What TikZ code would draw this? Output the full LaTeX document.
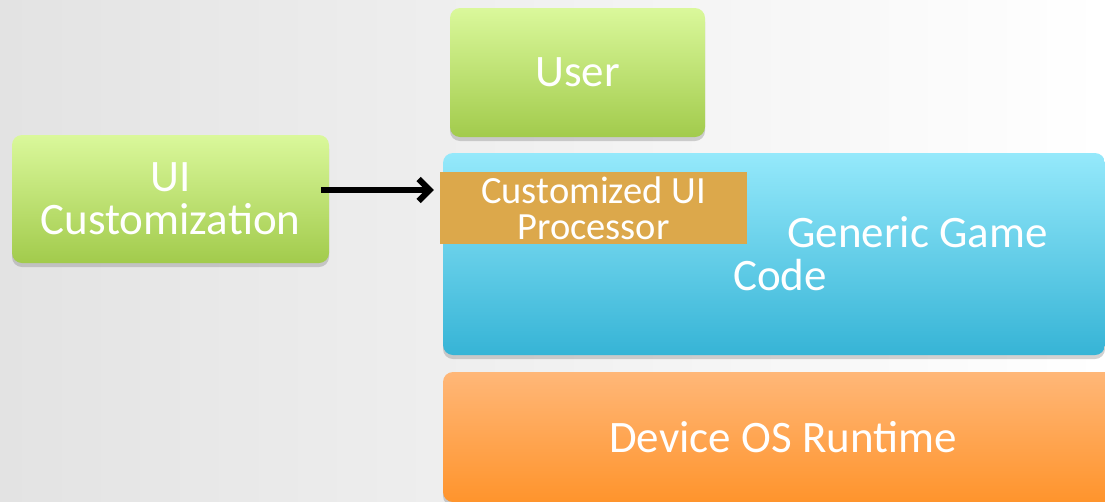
\documentclass[tikz,border=0pt]{standalone}
\usepackage{fontspec}
\setmainfont{Carlito}
\usetikzlibrary{shadows,arrows.meta}

\definecolor{greentop}{HTML}{DAF89B}
\definecolor{greenbot}{HTML}{A2CB4C}
\definecolor{bluetop}{HTML}{95E9FB}
\definecolor{bluebot}{HTML}{36B4D6}
\definecolor{orangetop}{HTML}{FFB778}
\definecolor{orangebot}{HTML}{FF942C}
\definecolor{procfill}{HTML}{DCA84B}

\begin{document}
\begin{tikzpicture}[x=1pt, y=-1pt,
    box/.style={rounded corners=10pt, text=white, align=center,
      font=\fontsize{45}{43}\selectfont,
      drop shadow={opacity=0.35, shadow xshift=0pt, shadow yshift=-4pt}},
    greenbox/.style={box, top color=greentop, bottom color=greenbot},
    bluebox/.style={box, top color=bluetop, bottom color=bluebot},
    orangebox/.style={box, top color=orangetop, bottom color=orangebot},
    procbox/.style={fill=procfill, text=white, align=center,
      font=\fontsize{38.5}{36}\selectfont},
    boxtext/.style={text=white, align=left, inner sep=0pt,
      font=\fontsize{45}{43}\selectfont},
    arrow/.style={line width=6pt, -{Straight Barb[length=11pt, width=22pt]}}]
    \shade[left color=black!11, right color=white] (0,0) rectangle (1105,501);
    \useasboundingbox (0,0) rectangle (1105,501);
    \clip (0,0) rectangle (1105,501);

    \node[greenbox, minimum width=255, minimum height=129] (user) at (577.5,72.5) {User};
    \node[greenbox, minimum width=317, minimum height=128] (uic) at (170.5,199) {UI\\Customization};
    \node[bluebox, minimum width=662, minimum height=202] (game) at (774,254) {};
    \node[boxtext, anchor=base west] (gametext) at (733,290) {\hspace*{54pt}Generic Game\\Code};
    \node[procbox, minimum width=307, minimum height=72] (proc) at (593.5,208) {Customized UI\\Processor};
    \node[orangebox, minimum width=680, minimum height=130] (os) at (783,437) {Device OS Runtime};

    \draw[arrow, shorten <=-8pt, shorten >=6pt] ([yshift=9pt]uic.east) -- ([yshift=9pt]uic.east -| proc.west);
\end{tikzpicture}
\end{document}
